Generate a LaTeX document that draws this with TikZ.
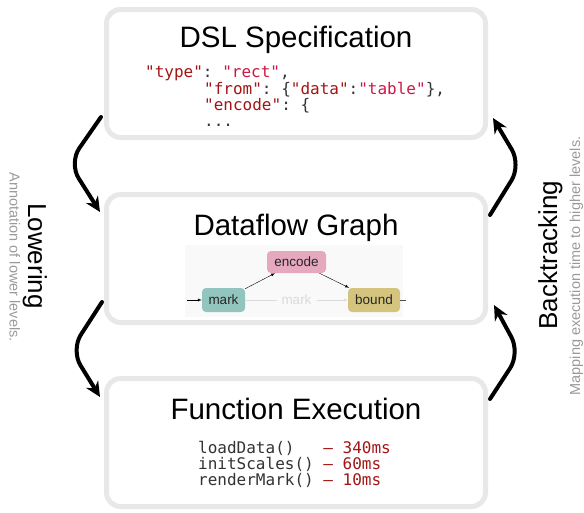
\documentclass[tikz,border=0pt]{standalone}
\usepackage{fontspec}
\setmainfont{Liberation Sans}
\setmonofont{DejaVu Sans Mono}
\usetikzlibrary{arrows.meta}

\definecolor{boxgray}{HTML}{E8E8E8}
\definecolor{insetbg}{HTML}{F9F9F9}
\definecolor{markc}{HTML}{93C5BF}
\definecolor{encc}{HTML}{E6A8BE}
\definecolor{boundc}{HTML}{D5C47E}
\definecolor{keyc}{HTML}{A31515}
\definecolor{valc}{HTML}{CC1845}
\definecolor{punct}{HTML}{333333}
\definecolor{notegray}{HTML}{9A9A9A}
\definecolor{faint}{HTML}{DADADA}

\newcommand{\skey}[1]{\textcolor{keyc}{#1}}
\newcommand{\sval}[1]{\textcolor{valc}{#1}}

\tikzset{
  level/.style={draw=boxgray, line width=5pt, fill=white, rounded corners=14pt,
    minimum width=379pt, minimum height=128pt},
  title/.style={anchor=base, text=black, font=\fontsize{29.5}{34}\selectfont},
  code/.style={anchor=base west, inner sep=0pt, text=punct,
    font=\ttfamily\fontsize{16}{16.4}\selectfont},
  op/.style={rounded corners=4pt, minimum height=24pt, inner sep=2pt, text=black!85,
    font=\fontsize{13.5}{16}\selectfont},
  hop/.style={-{Stealth[length=15pt,width=14pt]}, line width=4pt, rounded corners=18pt,
    line cap=round},
  side/.style={anchor=base, font=\fontsize{26}{30}\selectfont},
  note/.style={anchor=base, text=notegray, font=\fontsize{14.5}{17}\selectfont},
}

\begin{document}
\begin{tikzpicture}[x=1pt, y=-1pt]
\useasboundingbox (0,0) rectangle (584,512);

% the three levels
\node (dsl)  [level] at (296,73.5) {};
\node (flow) [level] at (296,258.5) {};
\node (exec) [level] at (296,442.5) {};

\node (t1) [title] at ([yshift=-40pt]dsl.north) {DSL Specification};
\node (t2) [title] at ([yshift=-43pt]flow.north) {Dataflow Graph};
\node (t3) [title] at ([yshift=-43pt]exec.north) {Function Execution};

% spec
\node (s1) [code] at (145,77) {\skey{"type"}: \sval{"rect"},};
\node (s2) [code] at (204,94) {\skey{"from"}: \{\skey{"data"}:\sval{"table"}\},};
\node (s3) [code] at (204,110) {\skey{"encode"}: \{};
\node (s4) [code] at (204,126) {...};

% dataflow
\node (inset) [fill=insetbg, minimum width=218pt, minimum height=72pt] at (294,281) {};
\node (enc) [op, fill=encc, minimum width=59pt, minimum height=22pt] at (296.5,262) {encode};
\node (mk)  [op, fill=markc, minimum width=43pt] at (223.5,300) {mark};
\node (bd)  [op, fill=boundc, minimum width=52pt] at (374,300) {bound};
\coordinate (src) at (187,300);
\coordinate (snk) at (406,300);
\draw [-latex] (src) -- (mk);
\draw [-latex] (mk) -- (enc);
\draw [-latex] (enc) -- (bd);
\draw [-latex, faint] (mk) -- node [fill=insetbg, text=faint, inner sep=5pt,
  font=\fontsize{13.5}{16}\selectfont] {mark} (bd);
\draw [black!70] (bd) -- (snk);

% execution times
\node (f1) [code] at (198,453) {loadData()\phantom{xx} \skey{– 340ms}};
\node (f2) [code] at (198,469) {initScales() \skey{– 60ms}};
\node (f3) [code] at (198,485) {renderMark() \skey{– 10ms}};

% lowering / backtracking
\draw [hop] ([xshift=-3pt,yshift=23pt]dsl.south west) -- (69,163)
  -- ([xshift=-4pt,yshift=-20pt]flow.north west);
\draw [hop] ([xshift=-2pt,yshift=23pt]flow.south west) -- (71,350)
  -- ([xshift=-4pt,yshift=-21pt]exec.north west);
\draw [hop] ([xshift=2pt,yshift=-23pt]flow.north east) -- (521,165)
  -- ([xshift=5pt,yshift=22pt]dsl.south east);
\draw [hop] ([xshift=2pt,yshift=-23pt]exec.north east) -- (520,353)
  -- ([xshift=6pt,yshift=20pt]flow.south east);

\node (low)      [side, rotate=-90] at (28,256) {Lowering};
\node (lownote)  [note, rotate=-90] at (9.5,257) {Annotation of lower levels.};
\node (back)     [side, rotate=90] at (557,255) {Backtracking};
\node (backnote) [note, rotate=90] at (580,266) {Mapping execution time to higher levels.};
\end{tikzpicture}
\end{document}
